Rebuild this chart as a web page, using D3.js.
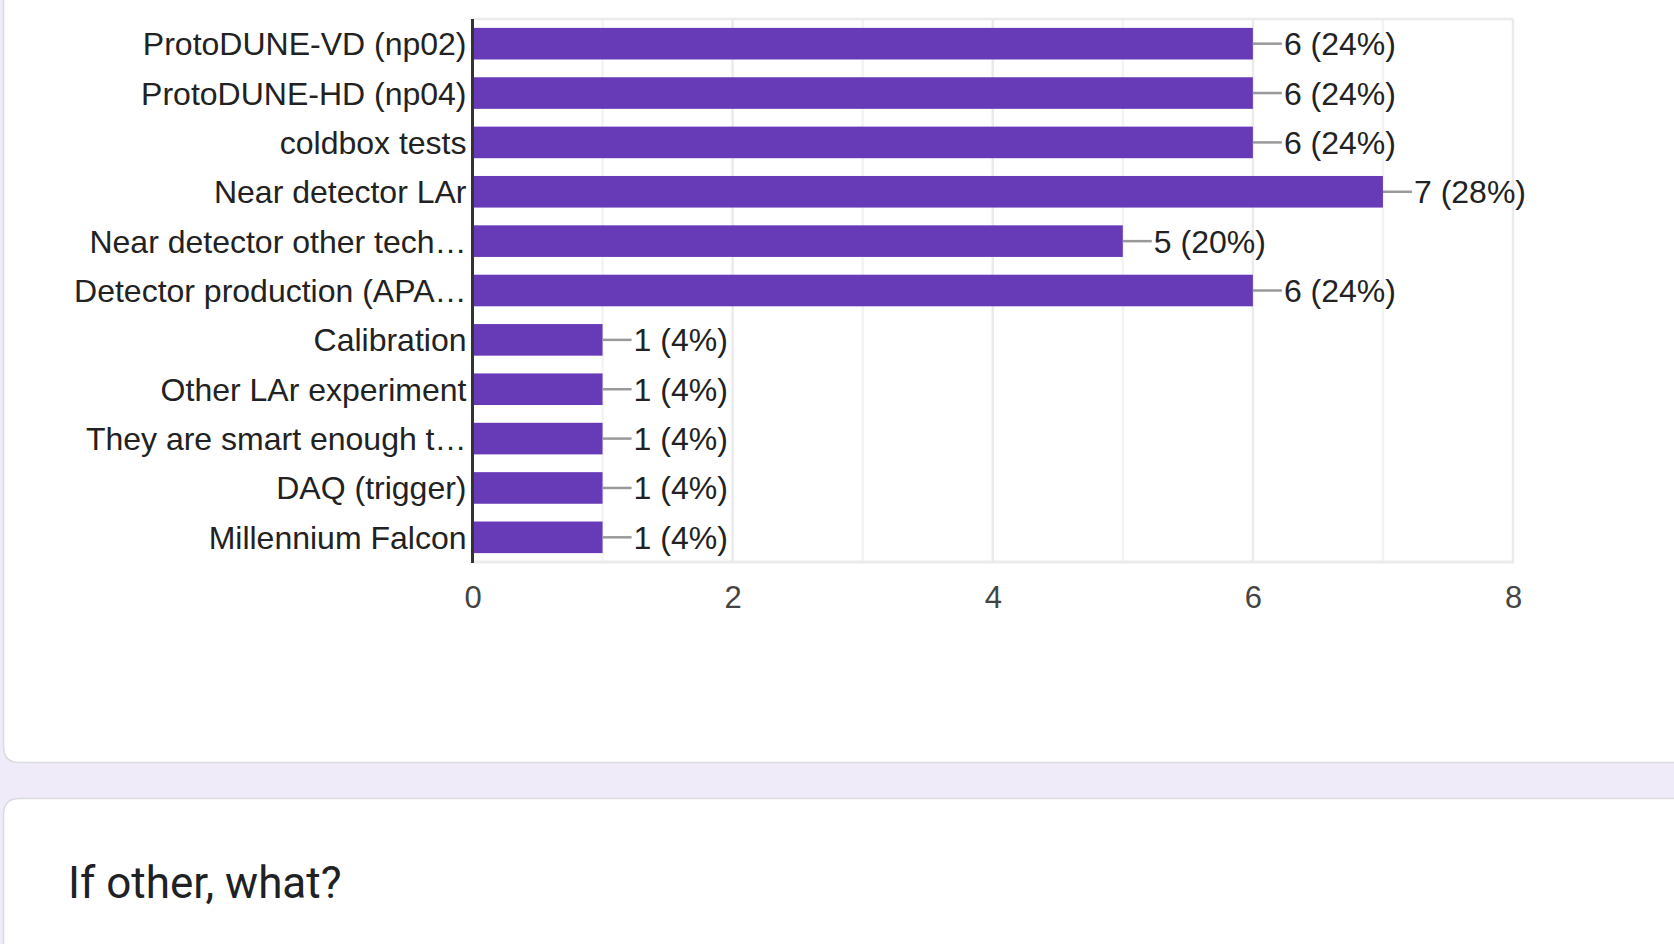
<!DOCTYPE html>
<html>
<head>
<meta charset="utf-8">
<script src="https://cdn.jsdelivr.net/npm/d3@7"></script>
<style>
    body { margin: 0; background: #f0ebf8; overflow: hidden; }
    svg { display: block; }
</style>
</head>
<body>
<div id="chart"></div>
<script>
// Survey answers (labels are shown truncated, as in the form summary)
const categories = [
    'ProtoDUNE-VD (np02)',
    'ProtoDUNE-HD (np04)',
    'coldbox tests',
    'Near detector LAr',
    'Near detector other tech\u2026',
    'Detector production (APA\u2026',
    'Calibration',
    'Other LAr experiment',
    'They are smart enough t\u2026',
    'DAQ (trigger)',
    'Millennium Falcon'
];
const counts = [6, 6, 6, 7, 5, 6, 1, 1, 1, 1, 1];
const respondents = 25;
const xTicks = [0, 2, 4, 6, 8];
const gridValues = [1, 2, 3, 4, 5, 6, 7, 8];
const nextQuestion = 'If other, what?';

function drawChart() {
    const width = 1674;
    const height = 944;

    const svg = d3.select('#chart')
        .append('svg')
        .attr('width', width)
        .attr('height', height);

    // white form cards on the lavender page
    const r = 16;
    svg.append('path')
        .attr('d', `M1700,-30 H3.5 V${762.5 - r} Q3.5,762.5 ${3.5 + r},762.5 H1700`)
        .attr('fill', '#fff')
        .attr('stroke', '#dadce0')
        .attr('stroke-width', 1.5);
    svg.append('path')
        .attr('d', `M1700,798.5 H${3.5 + r} Q3.5,798.5 3.5,${798.5 + r} V980 H1700`)
        .attr('fill', '#fff')
        .attr('stroke', '#dadce0')
        .attr('stroke-width', 1.5);

    const x = d3.scaleLinear()
        .domain([0, 8])
        .range([472.5, 1513]);

    const y = d3.scaleBand()
        .domain(categories)
        .range([19, 562])
        .paddingInner(0.36)
        .paddingOuter(0.18);

    const top = y.range()[0];
    const bottom = y.range()[1];

    // gridlines
    svg.selectAll('.grid')
        .data(gridValues)
        .enter().append('line')
        .attr('class', 'grid')
        .attr('x1', d => x(d))
        .attr('x2', d => x(d))
        .attr('y1', top)
        .attr('y2', bottom)
        .attr('stroke', d => d % 2 === 0 ? '#ebebeb' : '#f3f3f3')
        .attr('stroke-width', 2.5);

    svg.append('line')
        .attr('x1', x(0)).attr('x2', x(8))
        .attr('y1', top).attr('y2', top)
        .attr('stroke', '#ebebeb').attr('stroke-width', 2.5);
    svg.append('line')
        .attr('x1', x(0)).attr('x2', x(8) + 1)
        .attr('y1', bottom).attr('y2', bottom)
        .attr('stroke', '#ebebeb').attr('stroke-width', 3);

    // bars
    svg.selectAll('.bar')
        .data(counts)
        .enter().append('rect')
        .attr('class', 'bar')
        .attr('x', x(0))
        .attr('y', (d, i) => y(categories[i]))
        .attr('width', d => x(d) - x(0))
        .attr('height', y.bandwidth())
        .attr('fill', '#673ab7');

    // leader lines and value labels
    const mid = i => y(categories[i]) + y.bandwidth() / 2;
    svg.selectAll('.leader')
        .data(counts)
        .enter().append('line')
        .attr('class', 'leader')
        .attr('x1', d => x(d))
        .attr('x2', d => x(d) + 29)
        .attr('y1', (d, i) => mid(i))
        .attr('y2', (d, i) => mid(i))
        .attr('stroke', '#999')
        .attr('stroke-width', 2.5);

    svg.selectAll('.value')
        .data(counts)
        .enter().append('text')
        .attr('class', 'value')
        .attr('x', d => x(d) + 31)
        .attr('y', (d, i) => mid(i))
        .attr('dy', '0.36em')
        .attr('font-family', 'Arial, "Liberation Sans", sans-serif')
        .attr('font-size', '32px')
        .attr('fill', '#222')
        .text(d => `${d} (${Math.round(d / respondents * 100)}%)`);

    // category labels
    const yAxis = svg.append('g')
        .attr('transform', `translate(${x(0)},0)`)
        .call(d3.axisLeft(y).tickSize(0).tickPadding(6));
    yAxis.select('.domain').remove();
    yAxis.selectAll('text')
        .attr('dy', '0.36em')
        .attr('font-family', 'Arial, "Liberation Sans", sans-serif')
        .attr('font-size', '32px')
        .attr('fill', '#222');

    // axis baseline
    svg.append('line')
        .attr('x1', x(0)).attr('x2', x(0))
        .attr('y1', top).attr('y2', bottom + 1)
        .attr('stroke', '#333')
        .attr('stroke-width', 3);

    // x tick labels
    const xAxis = svg.append('g')
        .attr('transform', `translate(0,${bottom})`)
        .call(d3.axisBottom(x).tickValues(xTicks).tickSize(0).tickPadding(24));
    xAxis.select('.domain').remove();
    xAxis.selectAll('text')
        .attr('font-family', 'Arial, "Liberation Sans", sans-serif')
        .attr('font-size', '31px')
        .attr('fill', '#444');

    // next question title
    svg.append('text')
        .attr('x', 68)
        .attr('y', 898)
        .attr('font-family', 'Roboto, sans-serif')
        .attr('font-size', '44px')
        .attr('fill', '#202124')
        .text(nextQuestion);
}

window.addEventListener('load', drawChart);
</script>
</body>
</html>
